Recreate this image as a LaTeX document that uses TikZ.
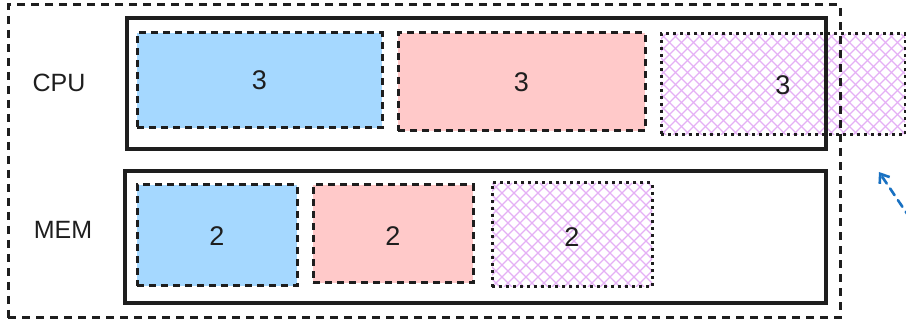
\documentclass[tikz,border=0pt]{standalone}
\usepackage{fontspec}
\setmainfont{Liberation Sans}
\usetikzlibrary{arrows.meta}
\definecolor{cblue}{HTML}{A5D8FF}
\definecolor{cpink}{HTML}{FFC9C9}
\definecolor{chatch}{HTML}{E4B0F5}
\definecolor{carrow}{HTML}{1971C2}
\definecolor{ink}{HTML}{1E1E1E}
\newcommand\myhatch[4]{%
  \begin{scope}
    \clip (#1,#2) rectangle (#3,#4);
    \pgfmathsetmacro\hh{#4-#2}
    \foreach \s in {-120,-108,...,260} {
      \draw[chatch, line width=1.4pt] (#1+\s,#2) -- ++(\hh,\hh);
      \draw[chatch, line width=1.4pt] (#1+\s+\hh,#2) -- ++(-\hh,\hh);
    }
  \end{scope}}
\begin{document}
\begin{tikzpicture}[x=1pt,y=-1pt,
  box/.style={anchor=north west, inner sep=0pt, outer sep=0pt, rectangle},
  outerdash/.style={box, draw=ink, line width=3pt, dash pattern=on 8pt off 6pt},
  lane/.style={box, draw=ink, line width=3.6pt},
  dashcell/.style={box, draw=ink, line width=3pt, dash pattern=on 7pt off 5pt},
  dotcell/.style={box, draw=ink, line width=3pt, dash pattern=on 2.6pt off 4.4pt},
  lbl/.style={font=\fontsize{25}{28}\selectfont, text=ink},
  num/.style={font=\fontsize{27}{30}\selectfont, text=ink}
]
\useasboundingbox (0,0) rectangle (906,323);
\begin{scope}
\clip (0,0) rectangle (906,323);
% hatching
\myhatch{661}{34}{905}{135}
\myhatch{492}{183}{652}{287}
% cells
\node[dashcell, fill=cblue, minimum width=245pt, minimum height=95pt] (c1) at (137,33) {};
\node[dashcell, fill=cpink, minimum width=247pt, minimum height=98pt] (c2) at (398,33) {};
\node[dotcell, minimum width=244pt, minimum height=101pt] (c3) at (661,34) {};
\node[dashcell, fill=cblue, minimum width=160pt, minimum height=101pt] (m1) at (137,185) {};
\node[dashcell, fill=cpink, minimum width=160pt, minimum height=98pt] (m2) at (313,185) {};
\node[dotcell, minimum width=160pt, minimum height=104pt] (m3) at (492,183) {};
% lanes
\node[lane, minimum width=699pt, minimum height=131pt] (cpu) at (127,18) {};
\node[lane, minimum width=701pt, minimum height=132pt] (mem) at (125,171) {};
% outer
\node[outerdash, minimum width=832pt, minimum height=313pt] (outer) at (8,5) {};
% labels
\node[lbl] (lcpu) at (59,83) {CPU};
\node[lbl] (lmem) at (63,230) {MEM};
\node[num] at (c1.center) {3};
\node[num] at (c2.center) {3};
\node[num] at ([xshift=0pt,yshift=-1pt]c3.center) {3};
\node[num] at ([yshift=-1pt]m1.center) {2};
\node[num] at ([yshift=-2pt]m2.center) {2};
\node[num] at ([yshift=-2pt]m3.center) {2};
% arrow
\coordinate (atail) at (918,230);
\coordinate (ahead) at (879,172);
\draw[carrow, line width=2.6pt, dash pattern=on 8pt off 6pt, line cap=round,
  -{Straight Barb[length=8pt,width=12pt,line width=2.6pt]}] (atail) -- (ahead);
\end{scope}
\end{tikzpicture}
\end{document}
